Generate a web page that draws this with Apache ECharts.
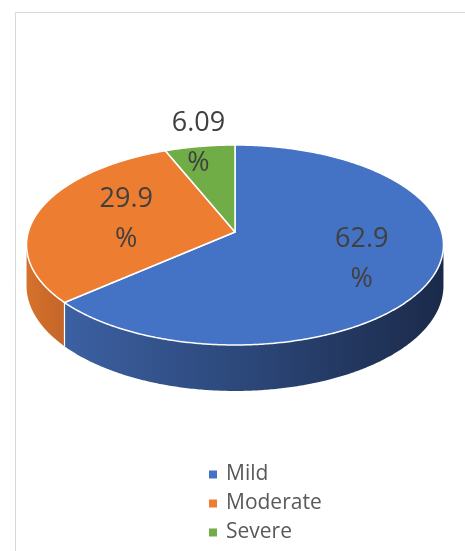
<!DOCTYPE html>
<html>
<head>
<meta charset="utf-8">
<script src="https://cdn.jsdelivr.net/npm/echarts@6/dist/echarts.min.js"></script>
<style>
  html, body { margin: 0; padding: 0; background: #ffffff; }
  #chart { width: 465px; height: 551px; }
</style>
</head>
<body>
<div id="chart"></div>
<script>
// Severity distribution (percent of cases)
const categories = ['Mild', 'Moderate', 'Severe'];
const percentValues = [62.9, 29.9, 6.09];

// Slice colours: top face and the stops of the side-wall gradient
const topColors = ['#4472C4', '#ED7D31', '#70AD47'];
const sideColors = [
  ['#3c60a2', '#2b4677', '#1b2a4a'],
  ['#d6722d', '#cc6b29', '#c4652a'],
  ['#5e9a3b', '#548a35', '#4a7a2f']
];
// Where each label sits along its slice's mid-angle (fraction of radius)
const labelRadius = [0.65, 0.55, 1.04];

// Projection of the tilted disc (perspective, viewed from the front)
const CX = 235, CY = 232;     // projected centre of the top face
const SX = 206.7, SY = 98.3;  // horizontal / vertical radii before perspective
const K = 0.13;               // perspective strength
const DEPTH = 40;             // thickness of the disc

function project(theta, r) {
  const u = r * Math.sin(theta);
  const v = r * Math.cos(theta);
  const d = 1 + K * v;
  return { x: CX + SX * u / d, y: CY - SY * v / d, d: d };
}

const TWO_PI = Math.PI * 2;
const SIL = Math.acos(-K);             // left/right silhouette angles
const VIS_START = SIL, VIS_END = TWO_PI - SIL;

function arcPoints(a0, a1) {
  const pts = [];
  const n = Math.max(2, Math.ceil((a1 - a0) / (Math.PI / 360)));
  for (let j = 0; j <= n; j++) {
    const t = a0 + (a1 - a0) * j / n;
    pts.push(project(t, 1));
  }
  return pts;
}

function renderSlice(idx) {
  return function (params, api) {
    const value = api.value(0);
    const total = percentValues.reduce((a, b) => a + b, 0);
    let before = 0;
    for (let j = 0; j < idx; j++) before += percentValues[j];
    const a0 = before / total * TWO_PI;
    const a1 = (before + value) / total * TWO_PI;
    const children = [];

    // Side wall (only the part facing the viewer)
    const s0 = Math.max(a0, VIS_START), s1 = Math.min(a1, VIS_END);
    if (s1 > s0) {
      const top = arcPoints(s0, s1);
      const poly = top.map(p => [p.x, p.y]);
      for (let j = top.length - 1; j >= 0; j--) {
        poly.push([top[j].x, top[j].y + DEPTH / top[j].d]);
      }
      const c = sideColors[idx];
      children.push({
        type: 'polygon',
        shape: { points: poly },
        style: {
          fill: new echarts.graphic.LinearGradient(0, 0, 1, 0, [
            { offset: 0, color: c[0] },
            { offset: 0.5, color: c[1] },
            { offset: 1, color: c[2] }
          ]),
          stroke: null
        },
        z2: 1
      });
      // seam between neighbouring slices on the wall
      if (a0 > VIS_START && a0 < VIS_END) {
        const p = project(a0, 1);
        children.push({
          type: 'line',
          shape: { x1: p.x, y1: p.y, x2: p.x, y2: p.y + DEPTH / p.d },
          style: { stroke: '#ffffff', lineWidth: 1.2 },
          z2: 2
        });
      }
    }

    // Top face
    const centre = project(0, 0);
    const face = [[centre.x, centre.y]].concat(arcPoints(a0, a1).map(p => [p.x, p.y]));
    children.push({
      type: 'polygon',
      shape: { points: face },
      style: { fill: topColors[idx], stroke: '#ffffff', lineWidth: 1.5, lineJoin: 'round' },
      z2: 5
    });

    // Value label
    const mid = (a0 + a1) / 2;
    const lp = project(mid, labelRadius[idx]);
    children.push({
      type: 'text',
      x: lp.x,
      y: lp.y,
      style: {
        text: String(value) + '\n%',
        fill: '#404040',
        fontSize: 27,
        fontFamily: 'Open Sans',
        lineHeight: 40,
        align: 'center',
        verticalAlign: 'middle'
      },
      z2: 100
    });

    return { type: 'group', children: children };
  };
}

const chart = echarts.init(document.getElementById('chart'), null, { renderer: 'canvas' });

chart.setOption({
  animation: false,
  backgroundColor: '#ffffff',
  graphic: [{
    type: 'rect',
    silent: true,
    shape: { x: 15.5, y: 12.5, width: 470, height: 560 },
    style: { fill: 'transparent', stroke: '#d9d9d9', lineWidth: 1 }
  }],
  legend: {
    orient: 'vertical',
    left: 209,
    top: 464,
    padding: 0,
    height: 80,
    icon: 'rect',
    itemWidth: 8,
    itemHeight: 8,
    itemGap: 8,
    selectedMode: false,
    data: categories,
    textStyle: {
      fontSize: 21,
      color: '#595959',
      fontFamily: 'Open Sans',
      lineHeight: 20,
      padding: [0, 0, 0, 4]
    }
  },
  series: categories.map((name, i) => ({
    type: 'custom',
    name: name,
    coordinateSystem: 'none',
    silent: true,
    itemStyle: { color: topColors[i] },
    renderItem: renderSlice(i),
    data: [percentValues[i]]
  }))
});
</script>
</body>
</html>
